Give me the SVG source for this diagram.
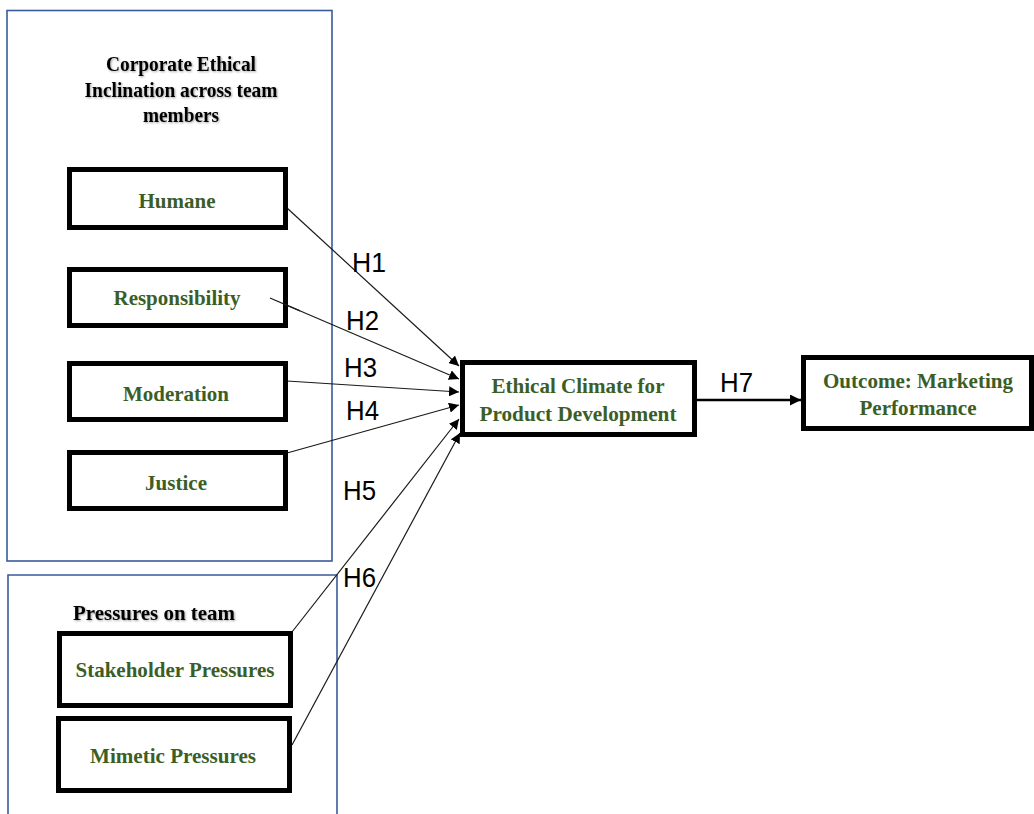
<svg xmlns="http://www.w3.org/2000/svg" width="1034" height="814" viewBox="0 0 1034 814">
  <style>
    .panel { fill: none; stroke: #3a5b9b; stroke-width: 1.6; }
    .box { fill: #ffffff; stroke: #000000; stroke-width: 5; }
    .lbl { font-family: "Liberation Serif", "Times New Roman", serif; font-weight: bold; font-size: 22px; fill: #3b5e27; text-anchor: middle; }
    .head { font-family: "Liberation Serif", "Times New Roman", serif; font-weight: bold; font-size: 22px; fill: #000000; text-anchor: middle; filter: url(#soft); }
    .hyp { font-family: "Liberation Sans", Arial, sans-serif; font-size: 27px; fill: #000000; }
    .link { fill: none; stroke: #1a1a1a; stroke-width: 1.2; marker-end: url(#tip); }
    .main { fill: none; stroke: #000000; stroke-width: 2.6; marker-end: url(#tipBig); }
  </style>
  <defs>
    <marker id="tip" viewBox="0 0 10 10" refX="10" refY="5" markerWidth="10" markerHeight="10" markerUnits="userSpaceOnUse" orient="auto">
      <path d="M0,0 L10,5 L0,10 Z" fill="#000"/>
    </marker>
    <marker id="tipBig" viewBox="0 0 10 10" refX="10" refY="5" markerWidth="11" markerHeight="11" markerUnits="userSpaceOnUse" orient="auto">
      <path d="M0,0 L10,5 L0,10 Z" fill="#000"/>
    </marker>
    <filter id="soft" x="-5%" y="-20%" width="110%" height="140%">
      <feDropShadow dx="1" dy="1" stdDeviation="0.8" flood-color="#000" flood-opacity="0.35"/>
    </filter>
  </defs>

  <rect width="1034" height="814" fill="#ffffff"/>

  <!-- grouping panels -->
  <g id="panel-inclination">
    <rect class="panel" x="7" y="10.5" width="325" height="550.5"/>
    <text class="head" x="181" y="71" textLength="150" lengthAdjust="spacingAndGlyphs">Corporate Ethical</text>
    <text class="head" x="181" y="97" textLength="193" lengthAdjust="spacingAndGlyphs">Inclination across team</text>
    <text class="head" x="181" y="122" textLength="76" lengthAdjust="spacingAndGlyphs">members</text>
  </g>
  <g id="panel-pressures">
    <path class="panel" d="M8,815 V575 H337 V815"/>
    <text class="head" x="154" y="620" textLength="162" lengthAdjust="spacingAndGlyphs">Pressures on team</text>
  </g>

  <!-- connectors -->
  <g id="connectors">
    <line class="link" x1="287" y1="208" x2="459" y2="366"/>
    <line class="link" x1="270" y1="298" x2="459" y2="379"/>
    <line class="link" x1="287" y1="381" x2="459" y2="392"/>
    <line class="link" x1="287" y1="453" x2="459" y2="405"/>
    <line class="link" x1="292" y1="632" x2="459" y2="419"/>
    <line class="link" x1="292" y1="745" x2="460" y2="433"/>
    <line class="main" x1="688" y1="400" x2="801" y2="400"/>
  </g>

  <!-- hypothesis labels -->
  <g id="hypotheses">
    <text class="hyp" x="352" y="272" textLength="34" lengthAdjust="spacingAndGlyphs">H1</text>
    <text class="hyp" x="346" y="330" textLength="33" lengthAdjust="spacingAndGlyphs">H2</text>
    <text class="hyp" x="344" y="377" textLength="33" lengthAdjust="spacingAndGlyphs">H3</text>
    <text class="hyp" x="346" y="420" textLength="33" lengthAdjust="spacingAndGlyphs">H4</text>
    <text class="hyp" x="343" y="500" textLength="33" lengthAdjust="spacingAndGlyphs">H5</text>
    <text class="hyp" x="343" y="587" textLength="33" lengthAdjust="spacingAndGlyphs">H6</text>
    <text class="hyp" x="720" y="392" textLength="33" lengthAdjust="spacingAndGlyphs">H7</text>
  </g>

  <!-- nodes -->
  <g id="humane">
    <rect class="box" x="69.5" y="169.5" width="216" height="58"/>
    <text class="lbl" x="177" y="208" textLength="77" lengthAdjust="spacingAndGlyphs">Humane</text>
  </g>
  <g id="responsibility">
    <rect class="box" x="69.5" y="269.5" width="216" height="56"/>
    <text class="lbl" x="177" y="305" textLength="127" lengthAdjust="spacingAndGlyphs">Responsibility</text>
  </g>
  <line class="link" x1="270" y1="298" x2="300" y2="310.9" style="marker-end:none"/>
  <g id="moderation">
    <rect class="box" x="69.5" y="363.5" width="216" height="56"/>
    <text class="lbl" x="176" y="401" textLength="106" lengthAdjust="spacingAndGlyphs">Moderation</text>
  </g>
  <g id="justice">
    <rect class="box" x="69.5" y="452.5" width="216" height="56"/>
    <text class="lbl" x="176" y="490" textLength="62" lengthAdjust="spacingAndGlyphs">Justice</text>
  </g>
  <g id="stakeholder">
    <rect class="box" x="59.5" y="633.5" width="231" height="72"/>
    <text class="lbl" x="175" y="677" textLength="199" lengthAdjust="spacingAndGlyphs">Stakeholder Pressures</text>
  </g>
  <g id="mimetic">
    <rect class="box" x="58.5" y="718.5" width="231" height="72"/>
    <text class="lbl" x="173" y="763" textLength="166" lengthAdjust="spacingAndGlyphs">Mimetic Pressures</text>
  </g>
  <g id="ethical-climate">
    <rect class="box" x="462.5" y="362.5" width="232" height="72"/>
    <text class="lbl" x="578" y="393" textLength="173" lengthAdjust="spacingAndGlyphs">Ethical Climate for</text>
    <text class="lbl" x="578" y="421" textLength="197" lengthAdjust="spacingAndGlyphs">Product Development</text>
  </g>
  <g id="outcome">
    <rect class="box" x="803.5" y="357.5" width="228" height="71"/>
    <text class="lbl" x="918" y="388" textLength="190" lengthAdjust="spacingAndGlyphs">Outcome: Marketing</text>
    <text class="lbl" x="918" y="415" textLength="117" lengthAdjust="spacingAndGlyphs">Performance</text>
  </g>
</svg>
